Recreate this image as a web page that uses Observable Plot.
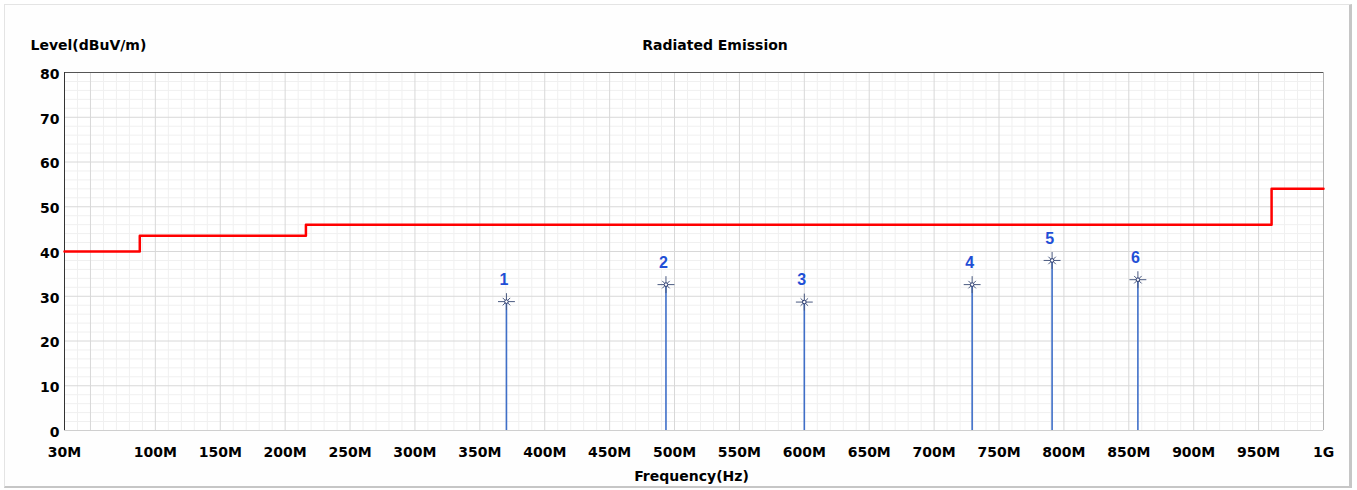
<!DOCTYPE html>
<html><head><meta charset="utf-8">
<script src="https://cdn.jsdelivr.net/npm/d3@7"></script>
<script src="https://cdn.jsdelivr.net/npm/@observablehq/plot@0.6"></script>
<style>
html,body{margin:0;padding:0;background:#fff;width:1357px;height:490px;overflow:hidden;}
#frame{position:absolute;left:4px;top:4px;width:1348px;height:484px;border-top:1px solid #e4e4e4;border-left:1px solid #e4e4e4;border-right:3px solid #c6c6c6;border-bottom:2px solid #c6c6c6;box-sizing:border-box;background:#fefefe;}
#chart{position:absolute;left:0;top:0;}
</style></head><body><div id="frame"></div><div id="chart"></div>
<script>
// Limit line (step-after) in MHz / dBuV/m
const limitFreq = [30, 88, 216, 960, 1000];
const limitLevel = [40, 43.5, 46, 54, 54];

// Peaks
const peakFreq = [370.5, 493.4, 600, 729.3, 790.9, 857];
const peakLevel = [28.8, 32.6, 28.7, 32.6, 38.0, 33.7];
const peakLabel = ["1", "2", "3", "4", "5", "6"];

// Axis ticks
const xTicks = [30, 100, 150, 200, 250, 300, 350, 400, 450, 500, 550, 600, 650, 700, 750, 800, 850, 900, 950, 1000];
const xTickLabels = ["30M", "100M", "150M", "200M", "250M", "300M", "350M", "400M", "450M", "500M", "550M", "600M", "650M", "700M", "750M", "800M", "850M", "900M", "950M", "1G"];
const yTicks = [0, 10, 20, 30, 40, 50, 60, 70, 80];

const limit = limitFreq.map((f, i) => ({f, v: limitLevel[i]}));
const peaks = peakFreq.map((f, i) => ({f, v: peakLevel[i], label: peakLabel[i]}));
const xLabelMap = new Map(xTicks.map((t, i) => [t, xTickLabels[i]]));

const majorX = d3.range(50, 1000, 50);
const minorX = d3.range(40, 1000, 10).filter(d => d % 50 !== 0);
const majorY = d3.range(10, 80, 10);
const minorY = d3.range(2, 80, 2).filter(d => d % 10 !== 0);

const chart = Plot.plot({
  width: 1357,
  height: 490,
  marginLeft: 64,
  marginRight: 34,
  marginTop: 72,
  marginBottom: 60,
  style: {fontFamily: "DejaVu Sans", fontWeight: "bold", fontSize: "14px", color: "#000", background: "transparent"},
  x: {domain: [30, 1000]},
  y: {domain: [0, 80]},
  marks: [
    Plot.frame({fill: "#fff", stroke: "none"}),
    Plot.ruleX(minorX, {stroke: "#f0f0f0", strokeWidth: 1}),
    Plot.ruleY(minorY, {stroke: "#f0f0f0", strokeWidth: 1}),
    Plot.ruleX(majorX, {stroke: "#d8d8d8", strokeWidth: 1}),
    Plot.ruleY(majorY, {stroke: "#d8d8d8", strokeWidth: 1}),
    Plot.ruleY([0], {stroke: "#cfcfcf"}),
    Plot.ruleX([1000], {stroke: "#b4b4b4"}),
    Plot.ruleY([80], {stroke: "#555"}),
    Plot.ruleX([30], {stroke: "#333"}),
    Plot.axisX({ticks: xTicks, tickFormat: d => xLabelMap.get(d), tickSize: 0, tickPadding: 17, fontSize: 14, fontWeight: "bold", label: null}),
    Plot.axisY({ticks: yTicks, tickSize: 0, tickPadding: 5, dy: 2, fontSize: 14, fontWeight: "bold", label: null}),
    Plot.line(limit, {x: "f", y: "v", curve: "step-after", stroke: "#ff0000", strokeWidth: 2.5}),
    Plot.ruleX(peaks, {x: "f", y1: 0, y2: "v", stroke: "#3f6fc8", strokeWidth: 1.6}),
    Plot.dot(peaks, {x: "f", y: "v", symbol: "plus", r: 5.5, stroke: "#4a5a80", strokeWidth: 1}),
    Plot.dot(peaks, {x: "f", y: "v", symbol: "times", r: 3.5, stroke: "#4a5a80", strokeWidth: 1}),
    Plot.dot(peaks, {x: "f", y: "v", symbol: "circle", r: 1.8, stroke: "#2a3a70", fill: "#fff", strokeWidth: 1}),
    Plot.text(peaks, {x: "f", y: "v", text: "label", dy: -22, dx: -2.5, fill: "#1f4fd6", fontSize: 16, fontFamily: "Liberation Sans", fontWeight: "bold"}),
    Plot.text(["Radiated Emission"], {frameAnchor: "top", lineAnchor: "middle", dy: -27, dx: 21, fontSize: 14, fontWeight: "bold", fill: "#000"}),
    Plot.text(["Level(dBuV/m)"], {frameAnchor: "top-left", lineAnchor: "middle", dy: -27, dx: -34, textAnchor: "start", fontSize: 14, fontWeight: "bold", fill: "#000"}),
    Plot.text(["Frequency(Hz)"], {frameAnchor: "bottom", lineAnchor: "middle", dy: 46, dx: -2.5, fontSize: 14, fontWeight: "bold", fill: "#000"})
  ]
});
document.getElementById("chart").appendChild(chart);
</script></body></html>
